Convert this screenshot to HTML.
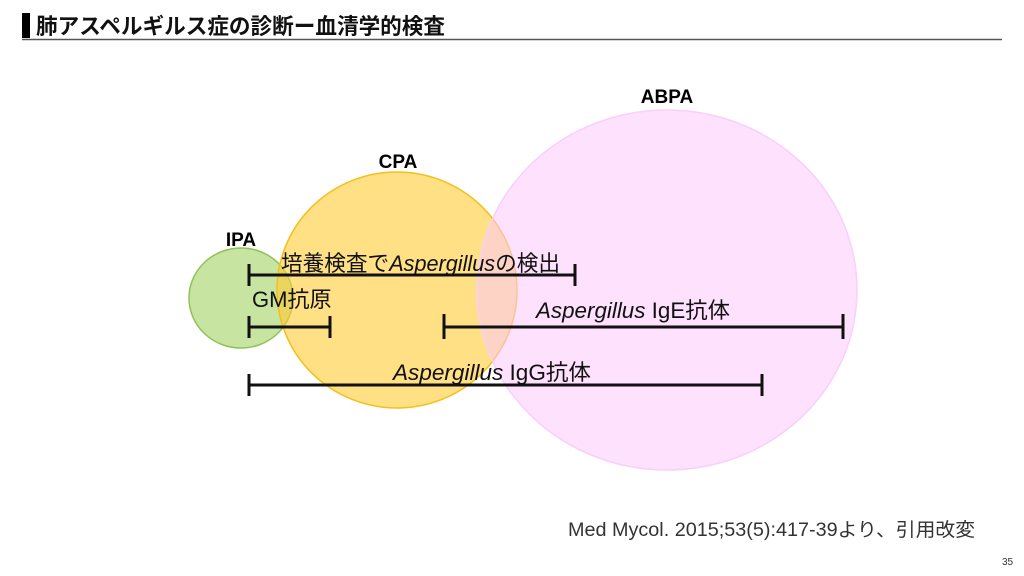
<!DOCTYPE html>
<html><head><meta charset="utf-8"><style>
body{margin:0;width:1024px;height:576px;background:#fff;overflow:hidden}
svg{display:block}
text{font-family:"Liberation Sans","Noto Sans CJK JP",sans-serif}
</style></head><body>
<svg width="1024" height="576" viewBox="0 0 1024 576">
<rect x="22" y="13" width="8" height="25" fill="#000"/>
<text x="36" y="34" font-size="22" font-weight="bold" fill="#111" textLength="409" lengthAdjust="spacingAndGlyphs">肺アスペルギルス症の診断ー血清学的検査</text>
<line x1="22" y1="39.5" x2="1002" y2="39.5" stroke="#555" stroke-width="1.5"/>
<ellipse cx="241" cy="298" rx="52" ry="50" fill="#a9d56f" fill-opacity="0.65" stroke="#8fc25a" stroke-width="1.5"/>
<ellipse cx="397" cy="290" rx="120" ry="118" fill="#ffcc33" fill-opacity="0.6" stroke="#f5bf1a" stroke-width="1.5"/>
<ellipse cx="667" cy="290" rx="190" ry="180" fill="#fbc8fb" fill-opacity="0.55" stroke="#f8d0f8" stroke-width="1.5"/>
<text x="241" y="246" font-size="19" font-weight="bold" text-anchor="middle">IPA</text>
<text x="398" y="168" font-size="19" font-weight="bold" text-anchor="middle">CPA</text>
<text x="667" y="103" font-size="19" font-weight="bold" text-anchor="middle">ABPA</text>
<g stroke="#111" stroke-width="3" fill="none">
<path d="M249 275H575M249 264V286M575 264V286"/>
<path d="M249 327H330M249 316V338M330 316V338"/>
<path d="M444 327H843M444 314V339M843 314V339"/>
<path d="M249 385H762M249 374V396M762 374V396"/>
</g>
<g font-size="22" fill="#111">
<text x="281" y="271" textLength="279" lengthAdjust="spacingAndGlyphs">培養検査で<tspan font-style="italic">Aspergillus</tspan>の検出</text>
<text x="252" y="307">GM抗原</text>
<text x="536" y="318" textLength="194" lengthAdjust="spacingAndGlyphs"><tspan font-style="italic">Aspergillus</tspan> IgE抗体</text>
<text x="393" y="380" textLength="198" lengthAdjust="spacingAndGlyphs"><tspan font-style="italic">Aspergillus</tspan> IgG抗体</text>
</g>
<text x="568" y="536" font-size="19" fill="#333" textLength="407" lengthAdjust="spacingAndGlyphs">Med Mycol. 2015;53(5):417-39より、引用改変</text>
<text x="1002" y="565" font-size="10" fill="#333">35</text>
</svg>
</body></html>
